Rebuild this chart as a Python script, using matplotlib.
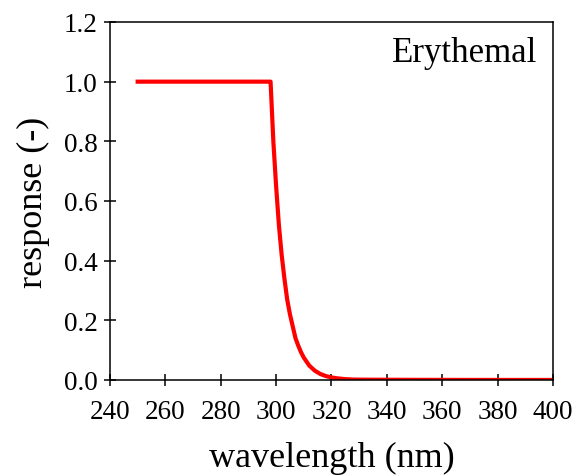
import numpy as np
import matplotlib.pyplot as plt

plt.rcParams['font.family'] = 'Liberation Serif'

# values
wl = [250, 260, 270, 280, 290, 297, 298, 299, 300, 301, 302, 303, 304, 305, 306, 307, 308,
      309, 310, 312, 314, 316, 318, 320, 322, 325, 328, 335, 350, 370, 400]
resp = [1.0, 1.0, 1.0, 1.0, 1.0, 1.0, 1.0, 0.80, 0.65, 0.52, 0.42, 0.34, 0.27, 0.22, 0.18,
        0.14, 0.115, 0.093, 0.075, 0.048, 0.031, 0.020, 0.013, 0.0086, 0.0056, 0.0028,
        0.0014, 0.0009, 0.0005, 0.0002, 0.0001]

fig = plt.figure(figsize=(5.77, 4.77), dpi=100)
ax = fig.add_axes([0.1906, 0.2013, 0.7678, 0.7505])
ax.plot(wl, resp, color='red', lw=3)
ax.set_xlim(240, 400)
ax.set_ylim(0, 1.2)
ax.set_xticks(np.arange(240, 401, 20))
ax.set_yticks(np.arange(0, 1.21, 0.2))
ax.set_yticklabels(['%.1f' % v for v in np.arange(0, 1.21, 0.2)])
for s in ax.spines.values():
    s.set_linewidth(1.1)
ax.tick_params(labelsize=19.5, direction='inout', length=8, width=1.1, top=False, right=False)
ax.tick_params(axis='x', pad=10)
ax.tick_params(axis='y', pad=5)
ax.set_xlabel('wavelength (nm)', fontsize=26, labelpad=12)
ax.set_ylabel('response (-)', fontsize=26, labelpad=10)
ax.text(0.965, 0.96, 'Erythemal', transform=ax.transAxes, ha='right', va='top', fontsize=25)
fig.savefig('out.png')
